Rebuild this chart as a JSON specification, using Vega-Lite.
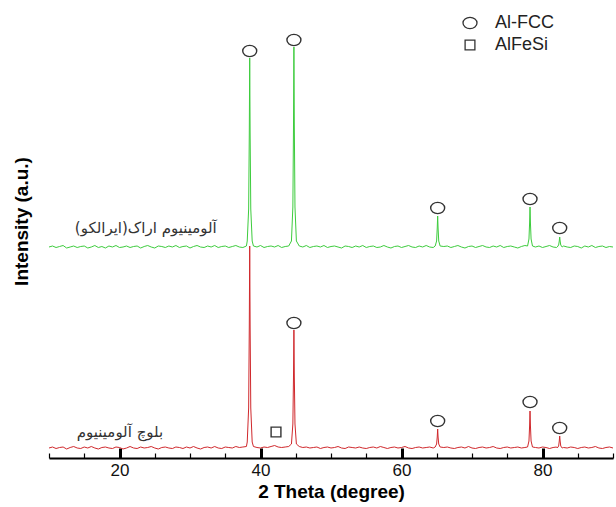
{
  "$schema": "https://vega.github.io/schema/vega-lite/v6.json",
  "width": 564,
  "height": 450,
  "autosize": "none",
  "padding": {"left": 49, "top": 8, "right": 3, "bottom": 49},
  "background": "white",
  "config": {"view": {"stroke": null}, "axis": {"grid": false}},
  "datasets": {
    "xrd": [
      {"t":10,"g":211,"r":10},{"t":10.5,"g":212,"r":11},{"t":11,"g":210.5,"r":9.5},{"t":11.5,"g":211.5,"r":10.5},
      {"t":12,"g":212.5,"r":11},{"t":12.5,"g":210,"r":9},{"t":13,"g":211,"r":10.5},{"t":13.5,"g":212,"r":11.5},
      {"t":14,"g":210.5,"r":10},{"t":14.5,"g":211.5,"r":9.5},{"t":15,"g":212,"r":11},{"t":15.5,"g":210,"r":10},
      {"t":16,"g":211,"r":11.5},{"t":16.5,"g":212.5,"r":10},{"t":17,"g":210.5,"r":9},{"t":17.5,"g":211.5,"r":10.5},
      {"t":18,"g":210,"r":11},{"t":18.5,"g":212,"r":10},{"t":19,"g":211,"r":9.5},{"t":19.5,"g":212.5,"r":11},
      {"t":20,"g":210.5,"r":10.5},{"t":20.5,"g":211,"r":9},{"t":21,"g":212,"r":10},{"t":21.5,"g":210.5,"r":11.5},
      {"t":22,"g":211.5,"r":10},{"t":22.5,"g":212,"r":9.5},{"t":23,"g":210,"r":11},{"t":23.5,"g":211.5,"r":10},
      {"t":24,"g":212.5,"r":10.5},{"t":24.5,"g":211,"r":11.5},{"t":25,"g":210,"r":10},{"t":25.5,"g":212,"r":9},
      {"t":26,"g":211.5,"r":10.5},{"t":26.5,"g":210.5,"r":11},{"t":27,"g":212,"r":10},{"t":27.5,"g":211,"r":9.5},
      {"t":28,"g":212.5,"r":11},{"t":28.5,"g":210.5,"r":10.5},{"t":29,"g":211.5,"r":9.5},{"t":29.5,"g":212,"r":11},
      {"t":30,"g":210,"r":10},{"t":30.5,"g":211.5,"r":11.5},{"t":31,"g":212.5,"r":10},{"t":31.5,"g":211,"r":9},
      {"t":32,"g":210.5,"r":10.5},{"t":32.5,"g":212,"r":11},{"t":33,"g":211,"r":10},{"t":33.5,"g":212.5,"r":11.5},
      {"t":34,"g":210.5,"r":10},{"t":34.5,"g":211.5,"r":9.5},{"t":35,"g":212,"r":11},{"t":35.5,"g":210.5,"r":10.5},
      {"t":36,"g":211.5,"r":10},{"t":36.5,"g":212.5,"r":11.5},{"t":37,"g":211,"r":10.5},{"t":37.5,"g":210.5,"r":11},
      {"t":38,"g":212,"r":11.5},
      {"t":38.12,"g":217,"r":16},{"t":38.32,"g":249,"r":50},{"t":38.41,"g":324,"r":131},{"t":38.47,"g":400,"r":212},
      {"t":38.53,"g":324,"r":131},{"t":38.62,"g":249,"r":50},{"t":38.82,"g":217,"r":16},
      {"t":39,"g":212,"r":11.5},{"t":39.5,"g":211,"r":10.5},{"t":40,"g":212.5,"r":10},{"t":40.5,"g":210.5,"r":11},
      {"t":41,"g":211.5,"r":10.5},{"t":41.5,"g":212,"r":11.5},{"t":42,"g":211,"r":12.5},{"t":42.5,"g":212.5,"r":11},
      {"t":43,"g":210.5,"r":10.5},{"t":43.5,"g":211.5,"r":11},{"t":44,"g":212,"r":11.5},
      {"t":44.39,"g":217,"r":14},{"t":44.59,"g":251,"r":34},{"t":44.68,"g":331,"r":81},{"t":44.74,"g":411,"r":128},
      {"t":44.8,"g":331,"r":81},{"t":44.89,"g":251,"r":34},{"t":45.09,"g":217,"r":14},
      {"t":45.5,"g":212,"r":11.5},{"t":46,"g":211,"r":10.5},{"t":46.5,"g":212.5,"r":11},{"t":47,"g":210.5,"r":10},
      {"t":47.5,"g":211.5,"r":10.5},{"t":48,"g":212,"r":11},{"t":48.5,"g":211,"r":9.5},{"t":49,"g":212.5,"r":10.5},
      {"t":49.5,"g":210.5,"r":11},{"t":50,"g":211.5,"r":10},{"t":50.5,"g":212,"r":10.5},{"t":51,"g":211,"r":11.5},
      {"t":51.5,"g":210,"r":10},{"t":52,"g":212,"r":9.5},{"t":52.5,"g":211.5,"r":11},{"t":53,"g":210.5,"r":10.5},
      {"t":53.5,"g":212,"r":10},{"t":54,"g":211,"r":11},{"t":54.5,"g":212.5,"r":10},{"t":55,"g":210.5,"r":9.5},
      {"t":55.5,"g":211.5,"r":10.5},{"t":56,"g":212,"r":11},{"t":56.5,"g":210.5,"r":10},{"t":57,"g":211,"r":11.5},
      {"t":57.5,"g":212.5,"r":10.5},{"t":58,"g":211,"r":9.5},{"t":58.5,"g":210,"r":10.5},{"t":59,"g":211.5,"r":11},
      {"t":59.5,"g":212,"r":10},{"t":60,"g":210.5,"r":10.5},{"t":60.5,"g":211.5,"r":11.5},{"t":61,"g":212.5,"r":10},
      {"t":61.5,"g":211,"r":9.5},{"t":62,"g":210.5,"r":10.5},{"t":62.5,"g":212,"r":11},{"t":63,"g":211,"r":10},
      {"t":63.5,"g":212.5,"r":10.5},{"t":64,"g":211,"r":11},{"t":64.5,"g":210.5,"r":10},
      {"t":64.78,"g":212,"r":11},{"t":64.98,"g":217,"r":14},{"t":65.07,"g":230,"r":21},{"t":65.13,"g":242,"r":29},
      {"t":65.19,"g":230,"r":21},{"t":65.28,"g":217,"r":14},{"t":65.48,"g":212,"r":11},
      {"t":66,"g":211.5,"r":10.5},{"t":66.5,"g":212,"r":11},{"t":67,"g":210.5,"r":10},{"t":67.5,"g":211.5,"r":9.5},
      {"t":68,"g":212.5,"r":10.5},{"t":68.5,"g":211,"r":11},{"t":69,"g":210,"r":10},{"t":69.5,"g":211.5,"r":11.5},
      {"t":70,"g":212,"r":10},{"t":70.5,"g":210.5,"r":9.5},{"t":71,"g":211.5,"r":10.5},{"t":71.5,"g":212.5,"r":11},
      {"t":72,"g":211,"r":10},{"t":72.5,"g":210.5,"r":10.5},{"t":73,"g":212,"r":11.5},{"t":73.5,"g":211,"r":10},
      {"t":74,"g":212.5,"r":9.5},{"t":74.5,"g":210.5,"r":10.5},{"t":75,"g":211.5,"r":11},{"t":75.5,"g":212,"r":10},
      {"t":76,"g":211,"r":10.5},{"t":76.5,"g":210,"r":11},{"t":77,"g":211.5,"r":10},{"t":77.5,"g":212.5,"r":10.5},
      {"t":77.88,"g":212,"r":11},{"t":78.08,"g":219,"r":17},{"t":78.17,"g":235,"r":32},{"t":78.23,"g":251,"r":47},
      {"t":78.29,"g":235,"r":32},{"t":78.38,"g":219,"r":17},{"t":78.58,"g":212,"r":11},
      {"t":79,"g":211,"r":10.5},{"t":79.5,"g":212,"r":10},{"t":80,"g":210.5,"r":11},{"t":80.5,"g":211.5,"r":10.5},
      {"t":81,"g":212.5,"r":9.5},{"t":81.5,"g":211,"r":10.5},{"t":82,"g":210.5,"r":11},
      {"t":82.09,"g":211,"r":10},{"t":82.29,"g":213,"r":12},{"t":82.38,"g":217,"r":17},{"t":82.44,"g":221,"r":22},
      {"t":82.5,"g":217,"r":17},{"t":82.59,"g":213,"r":12},{"t":82.79,"g":211,"r":10},
      {"t":83,"g":212,"r":10.5},{"t":83.5,"g":211,"r":10},{"t":84,"g":210.5,"r":11},{"t":84.5,"g":212,"r":10.5},
      {"t":85,"g":211.5,"r":9.5},{"t":85.5,"g":210,"r":10.5},{"t":86,"g":212,"r":11},{"t":86.5,"g":211,"r":10},
      {"t":87,"g":212.5,"r":10.5},{"t":87.5,"g":210.5,"r":11.5},{"t":88,"g":211.5,"r":10},{"t":88.5,"g":212,"r":9.5},
      {"t":89,"g":210.5,"r":10.5},{"t":89.5,"g":211.5,"r":11},{"t":90,"g":211,"r":10}
    ],
    "marks": [
      {"t":38.47,"v":407,"phase":"Al-FCC"},
      {"t":44.74,"v":418,"phase":"Al-FCC"},
      {"t":65.13,"v":250,"phase":"Al-FCC"},
      {"t":78.23,"v":259,"phase":"Al-FCC"},
      {"t":82.44,"v":230,"phase":"Al-FCC"},
      {"t":44.74,"v":135,"phase":"Al-FCC"},
      {"t":65.13,"v":37,"phase":"Al-FCC"},
      {"t":78.23,"v":56,"phase":"Al-FCC"},
      {"t":82.44,"v":30,"phase":"Al-FCC"},
      {"t":42.2,"v":26,"phase":"AlFeSi"}
    ],
    "labels": [
      {"t":33.8,"v":230,"label":"آلومینیوم اراک(ایرالکو)"},
      {"t":26.2,"v":26,"label":"بلوچ آلومینیوم"}
    ]
  },
  "layer": [
    {
      "data": {"name": "xrd"},
      "mark": {"type": "line", "color": "#d0282c", "strokeWidth": 1},
      "encoding": {
        "x": {"field": "t", "type": "quantitative", "scale": {"domain": [10, 90], "nice": false, "zero": false},
          "axis": {"orient": "bottom", "values": [10,15,20,25,30,35,40,45,50,55,60,65,70,75,80,85,90],
            "labels": false, "title": null, "tickSize": -5, "tickWidth": 1.2, "tickColor": "black",
            "domainColor": "black", "domainWidth": 2}},
        "y": {"field": "r", "type": "quantitative", "scale": {"domain": [0, 450], "nice": false, "zero": false},
          "title": "Intensity (a.u.)",
          "axis": {"orient": "left", "labels": false, "ticks": false, "domain": false,
            "titleFont": "Liberation Sans", "titleFontSize": 19, "titleFontWeight": "bold", "titleColor": "black",
            "titlePadding": 18, "titleY": 213}}
      }
    },
    {
      "data": {"name": "xrd"},
      "mark": {"type": "line", "color": "#3dcc3d", "strokeWidth": 1},
      "encoding": {
        "x": {"field": "t", "type": "quantitative",
          "axis": {"orient": "bottom", "values": [20, 40, 60, 80], "domain": false,
            "tickSize": -10, "tickWidth": 3, "tickColor": "black",
            "labelFont": "Liberation Sans", "labelFontSize": 17, "labelColor": "#111", "labelPadding": 14,
            "title": "2 Theta (degree)", "titleFont": "Liberation Sans", "titleFontSize": 19,
            "titleFontWeight": "bold", "titleColor": "black", "titlePadding": 4}},
        "y": {"field": "g", "type": "quantitative", "title": "Intensity (a.u.)"}
      }
    },
    {
      "data": {"name": "marks"},
      "mark": {"type": "point", "filled": false, "stroke": "#333", "strokeWidth": 1.4, "size": 196, "opacity": 1},
      "encoding": {
        "x": {"field": "t", "type": "quantitative", "axis": null},
        "y": {"field": "v", "type": "quantitative", "title": "Intensity (a.u.)"},
        "shape": {"field": "phase", "type": "nominal",
          "scale": {"domain": ["Al-FCC", "AlFeSi"],
            "range": ["M-1,0A1,0.8,0,1,0,1,0A1,0.8,0,1,0,-1,0Z", "M-0.7,-0.7H0.7V0.7H-0.7Z"]},
          "legend": {"orient": "none", "legendX": 412, "legendY": 6, "title": null, "padding": 0,
            "labelFont": "Liberation Sans", "labelFontSize": 18, "labelColor": "#222", "labelOffset": 16,
            "symbolSize": 196, "symbolStrokeColor": "#333", "symbolStrokeWidth": 1.3,
            "symbolFillColor": "transparent", "rowPadding": 4}}
      }
    },
    {
      "data": {"name": "labels"},
      "mark": {"type": "text", "align": "right", "baseline": "middle", "font": "DejaVu Sans", "fontSize": 15, "color": "#333"},
      "encoding": {
        "x": {"field": "t", "type": "quantitative", "axis": null},
        "y": {"field": "v", "type": "quantitative", "title": "Intensity (a.u.)"},
        "text": {"field": "label"}
      }
    }
  ],
  "resolve": {"axis": {"x": "independent"}}
}
